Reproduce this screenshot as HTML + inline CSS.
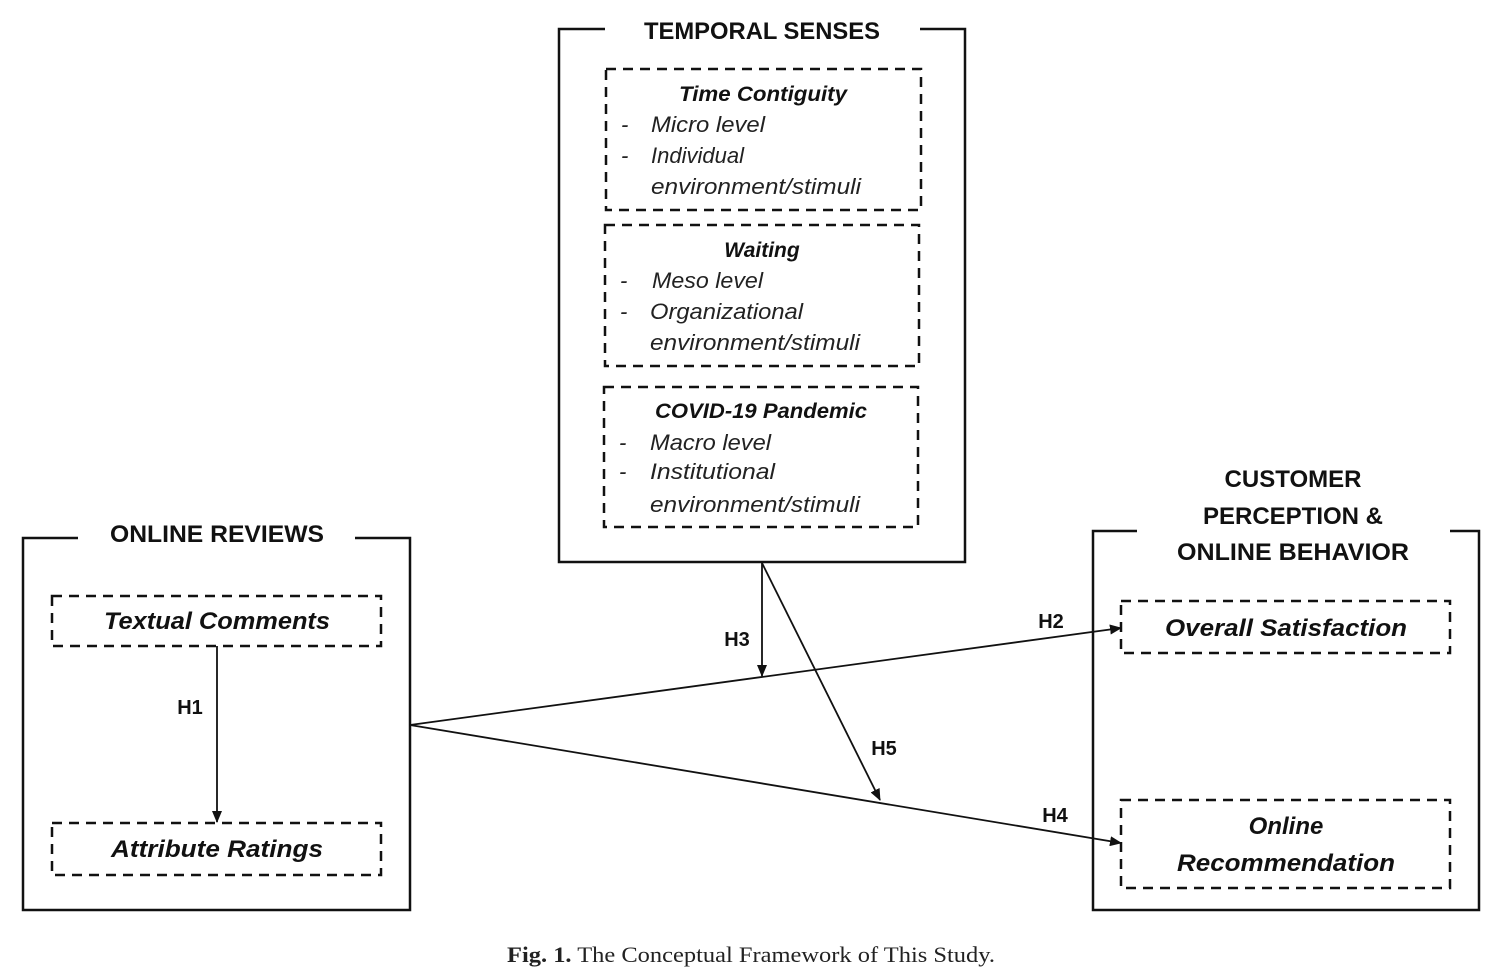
<!DOCTYPE html>
<html><head><style>body{margin:0;background:#fff}</style></head><body>
<svg width="1498" height="975" xmlns="http://www.w3.org/2000/svg" font-family="'Liberation Sans',sans-serif">
<defs><marker id="a" markerWidth="12" markerHeight="10" refX="11" refY="5" orient="auto" markerUnits="userSpaceOnUse"><path d="M0,0 L12,5 L0,10 z" fill="#111"/></marker></defs>
<g fill="none" stroke="#111" stroke-width="2.5">
<path d="M605,29 H559 V562 H965 V29 H920"/>
<path d="M78,538 H23 V910 H410 V538 H355"/>
<path d="M1137,531 H1093 V910 H1479 V531 H1450"/>
</g>
<g fill="none" stroke="#111" stroke-width="2.5" stroke-dasharray="10,7">
<rect x="606" y="69" width="315" height="141"/>
<rect x="605" y="225" width="314" height="141"/>
<rect x="604" y="387" width="314" height="140"/>
<rect x="52" y="596" width="329" height="50"/>
<rect x="52" y="823" width="329" height="52"/>
<rect x="1121" y="601" width="329" height="52"/>
<rect x="1121" y="800" width="329" height="88"/>
</g>
<g stroke="#111" stroke-width="1.8" marker-end="url(#a)">
<line x1="217" y1="646" x2="217" y2="822"/>
<line x1="410" y1="725" x2="1121" y2="628"/>
<line x1="410" y1="725" x2="1121" y2="843"/>
<line x1="762" y1="563" x2="762" y2="676"/>
<line x1="762" y1="563" x2="880" y2="800"/>
</g>
<g font-weight="bold" font-size="24" fill="#111" text-anchor="middle">
<text x="762" y="39" textLength="236" lengthAdjust="spacingAndGlyphs">TEMPORAL SENSES</text>
<text x="217" y="542" textLength="214" lengthAdjust="spacingAndGlyphs">ONLINE REVIEWS</text>
<text x="1293" y="487">CUSTOMER</text>
<text x="1293" y="524">PERCEPTION &amp;</text>
<text x="1293" y="560" textLength="232" lengthAdjust="spacingAndGlyphs">ONLINE BEHAVIOR</text>
</g>
<g font-weight="bold" font-size="20" fill="#111" text-anchor="middle">
<text x="190" y="714">H1</text><text x="1051" y="628">H2</text><text x="737" y="646">H3</text>
<text x="1055" y="822">H4</text><text x="884" y="755">H5</text>
</g>
<g font-weight="bold" font-style="italic" font-size="24" fill="#111" text-anchor="middle">
<text x="217" y="629" textLength="226" lengthAdjust="spacingAndGlyphs">Textual Comments</text>
<text x="217" y="857" textLength="212" lengthAdjust="spacingAndGlyphs">Attribute Ratings</text>
<text x="1286" y="636" textLength="242" lengthAdjust="spacingAndGlyphs">Overall Satisfaction</text>
<text x="1286" y="834">Online</text>
<text x="1286" y="871" textLength="218" lengthAdjust="spacingAndGlyphs">Recommendation</text>
</g>
<g font-weight="bold" font-style="italic" font-size="21" fill="#111" text-anchor="middle">
<text x="763" y="101" textLength="168" lengthAdjust="spacingAndGlyphs">Time Contiguity</text>
<text x="762" y="257">Waiting</text>
<text x="761" y="418" textLength="212" lengthAdjust="spacingAndGlyphs">COVID-19 Pandemic</text>
</g>
<g font-style="italic" font-size="22" fill="#222">
<text x="621" y="132">-</text><text x="651" y="132" textLength="114" lengthAdjust="spacingAndGlyphs">Micro level</text>
<text x="621" y="163">-</text><text x="651" y="163">Individual</text>
<text x="651" y="194" textLength="210" lengthAdjust="spacingAndGlyphs">environment/stimuli</text>
<text x="620" y="288">-</text><text x="652" y="288" textLength="111" lengthAdjust="spacingAndGlyphs">Meso level</text>
<text x="620" y="319">-</text><text x="650" y="319" textLength="153" lengthAdjust="spacingAndGlyphs">Organizational</text>
<text x="650" y="350" textLength="210" lengthAdjust="spacingAndGlyphs">environment/stimuli</text>
<text x="619" y="450">-</text><text x="650" y="450" textLength="121" lengthAdjust="spacingAndGlyphs">Macro level</text>
<text x="619" y="479">-</text><text x="650" y="479" textLength="125" lengthAdjust="spacingAndGlyphs">Institutional</text>
<text x="650" y="512" textLength="210" lengthAdjust="spacingAndGlyphs">environment/stimuli</text>
</g>
<text x="751" y="962" text-anchor="middle" font-family="'Liberation Serif',serif" font-size="22" fill="#222" textLength="488" lengthAdjust="spacingAndGlyphs"><tspan font-weight="bold">Fig. 1.</tspan>  The Conceptual Framework of This Study.</text>
</svg>
</body></html>
